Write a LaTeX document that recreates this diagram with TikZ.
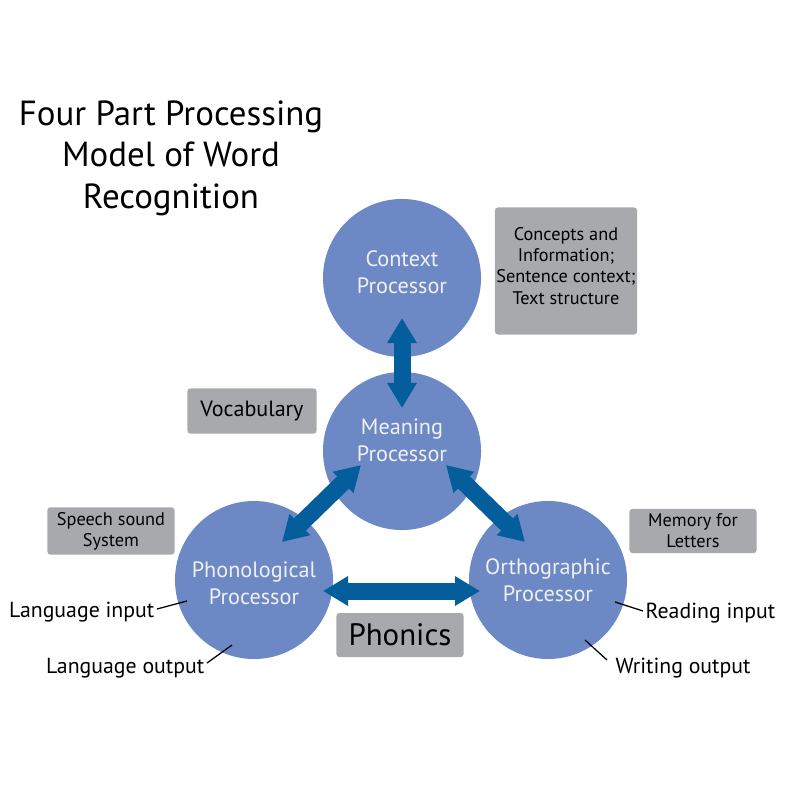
\documentclass[tikz,border=0pt]{standalone}
\usepackage{fontspec}
\setmainfont{PT Sans}
\usetikzlibrary{arrows.meta, positioning, calc}
\definecolor{procblue}{RGB}{109,137,197}
\definecolor{linkblue}{RGB}{4,94,156}
\definecolor{notegray}{RGB}{167,169,172}

\begin{document}
\begin{tikzpicture}[
        x=0.025cm, y=-0.025cm,
        processor/.style={circle, fill=procblue, minimum size=3.95cm},
        proctext/.style={align=center, text=white!94!black, font=\fontsize{15.8}{19}\selectfont},
        note/.style={rectangle, fill=notegray, rounded corners=2pt, minimum width=3.175cm, minimum height=1.1cm, align=center, font=\fontsize{13}{15}\selectfont},
        link/.style={draw=linkblue, line width=0.425cm, {Triangle[width=0.7cm, length=0.625cm]}-{Triangle[width=0.7cm, length=0.625cm]}},
        inout/.style={font=\fontsize{15.5}{18}\selectfont, inner sep=1pt},
        leader/.style={line width=0.9pt}
    ]
        \fill[white] (0,0) rectangle (800,800);
        \useasboundingbox (0,0) rectangle (800,800);

        \node[align=center, font=\fontsize{24.8}{29.5}\selectfont] (title) at (171,158) {Four Part Processing\\Model of Word\\Recognition};

        \node[processor] (context) at (402,278) {};
        \node[processor] (meaning) at (402,451) {};
        \node[processor] (phono) at (254,580) {};
        \node[processor] (ortho) at (548,580) {};

        \node[proctext] (contexttext) at ([shift={(0,-6)}]context.center) {Context\\Processor};
        \node[proctext] (meaningtext) at ([shift={(0,-11)}]meaning.center) {Meaning\\Processor};
        \node[proctext] (phonotext) at ([shift={(0,3)}]phono.center) {Phonological\\Processor};
        \node[proctext] (orthotext) at (ortho.center) {Orthographic\\Processor};

        \node[note, minimum width=3.55cm, minimum height=3.175cm] (concepts) at (566,271) {};
        \node[align=center, font=\fontsize{13}{15}\selectfont] (conceptstext) at ([shift={(0,-5)}]concepts.center) {Concepts and\\Information;\\Sentence context;\\Text structure};
        \node[note, minimum width=3.225cm, minimum height=1.125cm, font=\fontsize{15.7}{18}\selectfont] (vocab) at (252,411) {Vocabulary};
        \node[note] (speech) at (111,531) {Speech sound\\System};
        \node[note] (memory) at (693,531) {Memory for\\Letters};
        \node[note, font=\fontsize{22}{26}\selectfont] (phonics) at (400,635) {Phonics};

        \draw[link] ([shift={(0,40)}]context.center) -- ([shift={(0,-43)}]meaning.center);
        \draw[link] ([shift={(-41,14)}]meaning.center) -- ([shift={(28,-38)}]phono.center);
        \draw[link] ([shift={(44,14)}]meaning.center) -- ([shift={(-23,-38)}]ortho.center);
        \draw[link] ([shift={(69,11)}]phono.center) -- ([shift={(-68,11)}]ortho.center);

        \node[inout, anchor=base east] (langin) at (156,617) {Language input};
        \node[inout, anchor=base east] (langout) at (206,673) {Language output};
        \node[inout, anchor=base west] (readin) at (644,618) {Reading input};
        \node[inout, anchor=base west] (writeout) at (614,673) {Writing output};

        \draw[leader] ([shift={(1,-8)}]langin.base east) -- ([shift={(-67,21)}]phono.center);
        \draw[leader] ([shift={(1,-10)}]langout.base east) -- ([shift={(-22,65)}]phono.center);
        \draw[leader] ([shift={(-1,-7)}]readin.base west) -- ([shift={(67,22)}]ortho.center);
        \draw[leader] ([shift={(-7,-13)}]writeout.base west) -- ([shift={(37,60)}]ortho.center);
    \end{tikzpicture}
\end{document}
